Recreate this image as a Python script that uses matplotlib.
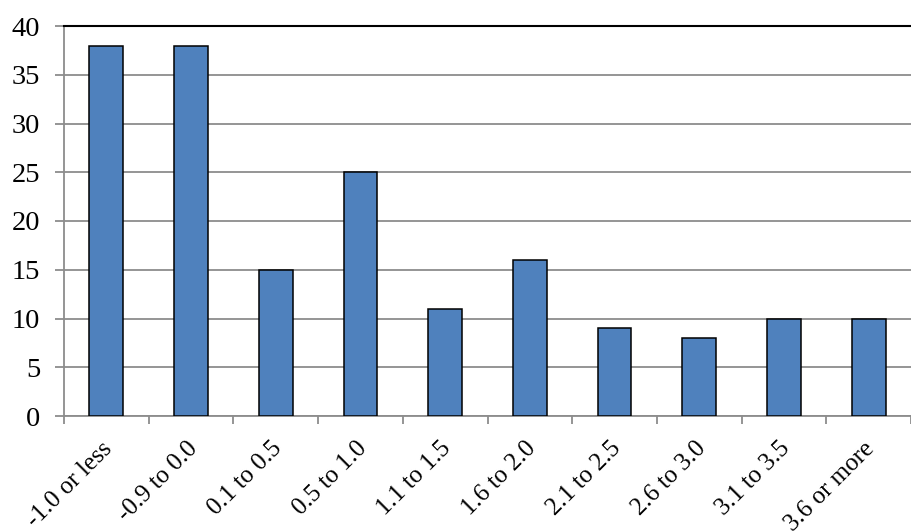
import matplotlib
matplotlib.use("Agg")
import matplotlib.pyplot as plt
import numpy as np

categories = ["-1.0 or less", "-0.9 to 0.0", "0.1 to 0.5", "0.5 to 1.0", "1.1 to 1.5",
              "1.6 to 2.0", "2.1 to 2.5", "2.6 to 3.0", "3.1 to 3.5", "3.6 or more"]
values = [38, 38, 15, 25, 11, 16, 9, 8, 10, 10]
yticks = [0, 5, 10, 15, 20, 25, 30, 35, 40]

plt.rcParams['font.family'] = ['Liberation Serif', 'DejaVu Serif']

fig = plt.figure(figsize=(9.11, 5.31), dpi=100)
ax = fig.add_axes([64/911, 115/531, 1 - 64/911, 390/531])

x = np.arange(len(categories))
ax.bar(x, values, width=0.4, color='#4F81BD', edgecolor='black', linewidth=1.1, zorder=3)

ax.set_xlim(-0.5, 9.35)
ax.set_ylim(0, 40)
ax.set_yticks(yticks)
ax.set_yticklabels([str(v) for v in yticks], fontsize=20.5)
ax.yaxis.grid(True, color='#8C8C8C', linewidth=1.3, zorder=0)
ax.tick_params(axis='y', length=6.5, color='#8C8C8C', width=1.3, pad=10.5)

ax.set_xticks(x)
ax.set_xticklabels(categories, rotation=45, ha='right', rotation_mode='anchor', fontsize=18)
ax.set_xticks(np.arange(-0.5, len(categories), 1), minor=True)
ax.tick_params(axis='x', which='major', length=0, pad=15.5)
ax.tick_params(axis='x', which='minor', length=6, color='#8C8C8C', width=1.3)
for lbl in ax.get_xticklabels():
    lbl.set_transform(lbl.get_transform() + matplotlib.transforms.ScaledTranslation(-0.05, 0, fig.dpi_scale_trans))

for s in ['left', 'bottom']:
    ax.spines[s].set_color('#8C8C8C')
    ax.spines[s].set_linewidth(1.3)
ax.spines['top'].set_color('black')
ax.spines['top'].set_linewidth(1.5)
ax.spines['right'].set_visible(False)

fig.savefig('out.png', dpi=100)
